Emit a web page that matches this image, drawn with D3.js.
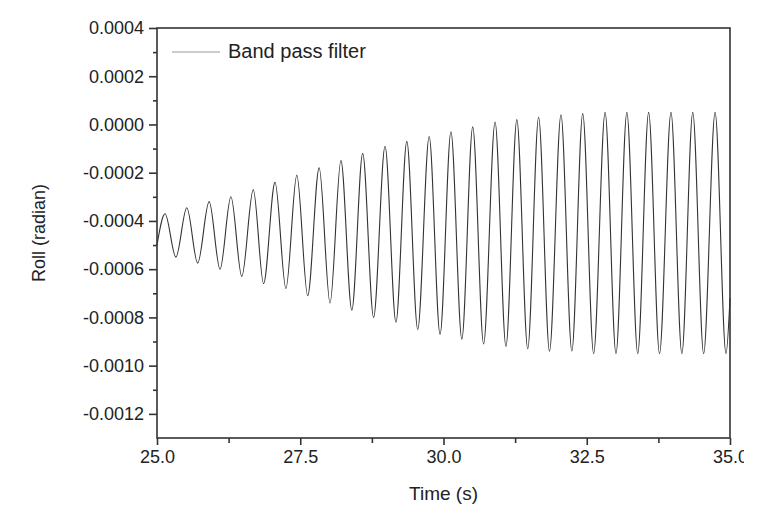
<!DOCTYPE html>
<html><head><meta charset="utf-8">
<script src="https://cdn.jsdelivr.net/npm/d3@7/dist/d3.min.js"></script>
<style>body{margin:0;background:#fff;}svg{display:block;}text{font-family:Arial,"Liberation Sans",sans-serif;fill:#222;}</style>
</head><body>
<svg id="c" width="782" height="513"></svg>
<script>
const xTicks = [25.0, 27.5, 30.0, 32.5, 35.0];
const yTicks = [0.0004, 0.0002, 0.0000, -0.0002, -0.0004, -0.0006, -0.0008, -0.0010, -0.0012];
const seriesName = "Band pass filter";
const startPoint = [25.0, -0.0005];
const endPoint = [35.0, -0.00072];
const peakTimes = [25.14, 25.52, 25.91, 26.29, 26.68, 27.06, 27.44, 27.83, 28.21, 28.59, 28.98, 29.36, 29.75, 30.13, 30.51, 30.90, 31.28, 31.66, 32.05, 32.43, 32.82, 33.20, 33.58, 33.97, 34.35, 34.74];
const peakValues = [-0.00037, -0.000345, -0.00032, -0.0003, -0.00027, -0.00024, -0.00021, -0.00018, -0.00015, -0.00012, -0.00009, -0.00007, -0.00005, -0.00003, -0.00001, 0.00001, 0.00002, 0.00003, 0.00004, 0.000045, 0.00005, 0.00005, 0.00005, 0.00005, 0.00005, 0.00005];
const troughTimes = [25.33, 25.71, 26.10, 26.48, 26.86, 27.25, 27.63, 28.02, 28.40, 28.78, 29.17, 29.55, 29.94, 30.32, 30.70, 31.09, 31.47, 31.85, 32.24, 32.62, 33.01, 33.39, 33.77, 34.16, 34.54, 34.93];
const troughValues = [-0.00055, -0.000575, -0.0006, -0.00063, -0.00066, -0.00068, -0.00071, -0.00074, -0.00077, -0.0008, -0.00082, -0.00085, -0.00087, -0.00089, -0.00091, -0.00092, -0.00093, -0.00094, -0.00094, -0.00095, -0.00095, -0.00095, -0.00095, -0.00095, -0.00095, -0.00095];

const L = 157, R = 730, T = 28, B = 438;
const svg = d3.select("#c");
const x = d3.scaleLinear().domain([25, 35]).range([L, R]);
const y = d3.scaleLinear().domain([-0.0013, 0.0004]).range([B, T]);

const pts = [startPoint]
  .concat(peakTimes.map((t, i) => [t, peakValues[i]]))
  .concat(troughTimes.map((t, i) => [t, troughValues[i]]))
  .concat([endPoint])
  .sort((a, b) => a[0] - b[0]);

svg.append("path").datum(pts)
  .attr("fill", "none").attr("stroke", "#333").attr("stroke-width", 1.1)
  .attr("d", d3.line().x(d => x(d[0])).y(d => y(d[1])).curve(d3.curveMonotoneX));

// frame
svg.append("rect").attr("x", L).attr("y", T).attr("width", R - L).attr("height", B - T)
  .attr("fill", "none").attr("stroke", "#333").attr("stroke-width", 1.6);

// clip for the cut-off last x label
svg.append("clipPath").attr("id", "xclip").append("rect")
  .attr("x", 0).attr("y", -20).attr("width", 744).attr("height", 60);

const xAxis = d3.axisBottom(x).tickValues(xTicks).tickFormat(d3.format(".1f")).tickSize(7).tickPadding(5);
const gx = svg.append("g").attr("transform", `translate(0,${B})`).attr("clip-path", "url(#xclip)").call(xAxis);
const xMinor = d3.axisBottom(x).tickValues([26.25, 28.75, 31.25, 33.75]).tickFormat("").tickSize(5);
svg.append("g").attr("transform", `translate(0,${B})`).call(xMinor);

const yAxis = d3.axisLeft(y).tickValues(yTicks).tickFormat(d3.format(".4f")).tickSize(8).tickPadding(5);
const gy = svg.append("g").attr("transform", `translate(${L},0)`).call(yAxis);
const yMinor = d3.axisLeft(y).tickValues([0.0003, 0.0001, -0.0001, -0.0003, -0.0005, -0.0007, -0.0009, -0.0011]).tickFormat("").tickSize(4);
svg.append("g").attr("transform", `translate(${L},0)`).call(yMinor);

svg.selectAll(".domain").remove();
svg.selectAll(".tick line").attr("stroke", "#333").attr("stroke-width", 1.6);
svg.selectAll(".tick text").style("font-size", "18px").attr("fill", "#222");
gy.selectAll(".tick text").text(d => d3.format(".4f")(d).replace("−", "-"));

// legend
svg.append("line").attr("x1", 172).attr("x2", 220).attr("y1", 52).attr("y2", 52)
  .attr("stroke", "#999").attr("stroke-width", 1.2);
svg.append("text").attr("x", 228).attr("y", 58).style("font-size", "20px").text(seriesName);

// axis titles
svg.append("text").attr("x", (L + R) / 2).attr("y", 500).attr("text-anchor", "middle").style("font-size", "19px").text("Time (s)");
svg.append("text").attr("transform", `translate(45,${(T + B) / 2}) rotate(-90)`).attr("text-anchor", "middle").style("font-size", "18px").text("Roll (radian)");
</script>
</body></html>
